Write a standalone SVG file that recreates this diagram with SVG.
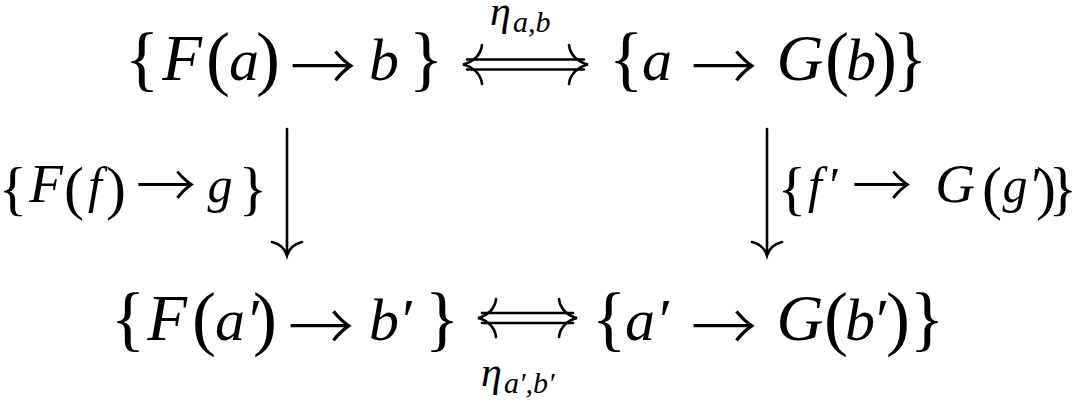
<svg xmlns="http://www.w3.org/2000/svg" width="1078" height="404" viewBox="0 0 1078 404">
<style>
text{font-family:"Liberation Serif",serif;font-style:italic;fill:#000;text-anchor:middle}
.m{font-size:60px}
.s{font-size:50px}
.big{font-size:65px}
.sbig{font-size:55px}
.br{font-style:normal;font-size:72px}
.sbr{font-style:normal;font-size:60px}
.ar{font-family:"Noto Sans CJK JP","Liberation Serif",sans-serif;font-style:normal;font-weight:200;font-size:66px}
.sar{font-family:"Noto Sans CJK JP","Liberation Serif",sans-serif;font-style:normal;font-weight:200;font-size:60px}
.lab{font-size:42px;text-anchor:start}
.sub{font-size:30px}
.ln{fill:none;stroke:#000;stroke-width:2.6;stroke-linecap:round}
</style>
<g id="n-top-left">
<text class="m"><tspan class="br" x="142" y="82">{</tspan><tspan class="big" x="182" y="80">F</tspan><tspan class="br" x="218" y="82">(</tspan><tspan x="244" y="80">a</tspan><tspan class="br" x="268" y="82">)</tspan><tspan class="ar" x="323" y="91">→</tspan><tspan x="384" y="80">b</tspan><tspan class="br" x="426" y="82">}</tspan></text>
</g>
<g id="n-top-right">
<text class="m"><tspan class="br" x="626" y="82">{</tspan><tspan x="657" y="80">a</tspan><tspan class="ar" x="724" y="91">→</tspan><tspan class="big" x="800" y="80">G</tspan><tspan class="br" x="837" y="82">(</tspan><tspan x="861" y="80">b</tspan><tspan class="br" x="885" y="82">)</tspan><tspan class="br" x="910" y="82">}</tspan></text>
</g>
<g id="n-bottom-left">
<text class="m"><tspan class="br" x="128" y="342">{</tspan><tspan class="big" x="167" y="340">F</tspan><tspan class="br" x="204" y="342">(</tspan><tspan x="230" y="340">a</tspan><tspan x="252" y="340">′</tspan><tspan class="br" x="265" y="342">)</tspan><tspan class="ar" x="321" y="351">→</tspan><tspan x="384" y="340">b</tspan><tspan x="405" y="340">′</tspan><tspan class="br" x="442" y="342">}</tspan></text>
</g>
<g id="n-bottom-right">
<text class="m"><tspan class="br" x="609" y="342">{</tspan><tspan x="640" y="340">a</tspan><tspan x="662" y="340">′</tspan><tspan class="ar" x="724" y="351">→</tspan><tspan class="big" x="800" y="340">G</tspan><tspan class="br" x="836" y="342">(</tspan><tspan x="860" y="340">b</tspan><tspan x="879" y="340">′</tspan><tspan class="br" x="898" y="342">)</tspan><tspan class="br" x="927" y="342">}</tspan></text>
</g>
<g id="connectors">
<g id="e-top">
<path class="ln" d="M467,59.5H584M467,69.5H584"/>
<path class="ln" d="M482,45C481,55 473,62 463,64.5C473,67 481,74 482,84"/>
<path class="ln" d="M569,45C570,55 578,62 588,64.5C578,67 570,74 569,84"/>
<text class="lab"><tspan x="490" y="25">η</tspan><tspan class="sub" x="513" y="32">a,b</tspan></text>
</g>
<g id="e-bottom">
<path class="ln" d="M482,313H573M482,323H573"/>
<path class="ln" d="M496,299C495,309 487,316 478,318C487,320 495,327 496,337"/>
<path class="ln" d="M559,299C560,309 568,316 577,318C568,320 560,327 559,337"/>
<text class="lab"><tspan x="481" y="386">η</tspan><tspan class="sub" x="504" y="393">a′,b′</tspan></text>
</g>
<g id="e-left">
<path class="ln" d="M287,129V254"/>
<path class="ln" d="M272,242C280,244 285,249 287,255.5C289,249 294,244 302,242"/>
<text class="s"><tspan class="sbr" x="13" y="208">{</tspan><tspan class="sbig" x="46" y="202">F</tspan><tspan class="sbr" x="74" y="208">(</tspan><tspan x="95" y="202">f</tspan><tspan class="sbr" x="116" y="208">)</tspan><tspan class="sar" x="166" y="208">→</tspan><tspan x="220" y="202">g</tspan><tspan class="sbr" x="253" y="208">}</tspan></text>
</g>
<g id="e-right">
<path class="ln" d="M767,129V254"/>
<path class="ln" d="M752,242C760,244 765,249 767,255.5C769,249 774,244 782,242"/>
<text class="s"><tspan class="sbr" x="792" y="208">{</tspan><tspan x="815" y="202">f</tspan><tspan x="832" y="202">′</tspan><tspan class="sar" x="882" y="208">→</tspan><tspan class="sbig" x="955" y="202">G</tspan><tspan class="sbr" x="992" y="208">(</tspan><tspan x="1015" y="202">g</tspan><tspan x="1034" y="202">′</tspan><tspan class="sbr" x="1046" y="208">)</tspan><tspan class="sbr" x="1063" y="208">}</tspan></text>
</g>
</g>
</svg>
